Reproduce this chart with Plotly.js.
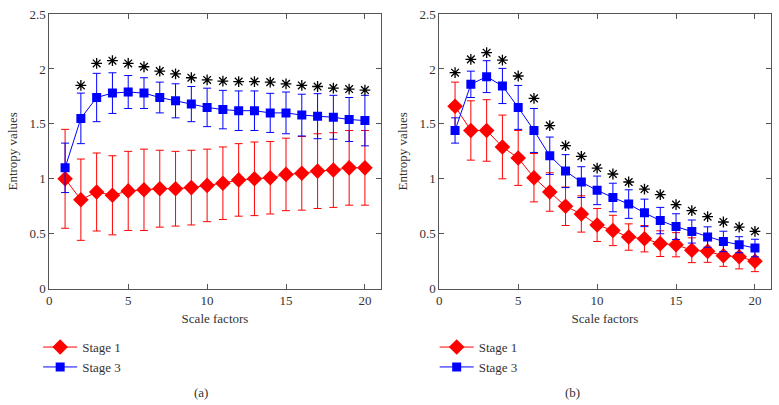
<!DOCTYPE html>
<html><head><meta charset="utf-8">
<script src="https://cdn.plot.ly/plotly-3.0.1.min.js"></script>
<style>html,body{margin:0;padding:0;background:#fff}#c{width:779px;height:405px}</style>
</head><body><div id="c"></div>
<script>
const scales = [1,2,3,4,5,6,7,8,9,10,11,12,13,14,15,16,17,18,19,20];
// Panel (a)
const a_stage1 = [1.00,0.81,0.88,0.85,0.89,0.90,0.91,0.91,0.92,0.94,0.96,0.99,1.00,1.01,1.04,1.05,1.07,1.08,1.10,1.10];
const a_stage1_err = [0.45,0.37,0.355,0.36,0.36,0.37,0.35,0.34,0.34,0.33,0.33,0.33,0.335,0.33,0.33,0.335,0.34,0.34,0.34,0.34];
const a_stage3 = [1.10,1.55,1.74,1.78,1.79,1.78,1.74,1.71,1.68,1.65,1.63,1.62,1.62,1.60,1.60,1.58,1.57,1.56,1.54,1.53];
const a_stage3_err = [0.225,0.23,0.22,0.185,0.15,0.14,0.14,0.155,0.16,0.175,0.175,0.18,0.18,0.178,0.19,0.19,0.205,0.2,0.2,0.23];
const a_star_x = [2,3,4,5,6,7,8,9,10,11,12,13,14,15,16,17,18,19,20];
const a_star_y = [1.85,2.05,2.075,2.05,2.02,1.98,1.955,1.92,1.90,1.89,1.885,1.885,1.88,1.865,1.85,1.84,1.826,1.817,1.808];
// Panel (b)
const b_stage1 = [1.66,1.44,1.44,1.29,1.19,1.01,0.88,0.75,0.68,0.58,0.53,0.47,0.455,0.41,0.40,0.35,0.34,0.30,0.29,0.25];
const b_stage1_err = [0.22,0.27,0.28,0.29,0.25,0.22,0.175,0.175,0.165,0.15,0.138,0.12,0.12,0.117,0.11,0.113,0.1,0.097,0.11,0.095];
const b_stage3 = [1.44,1.86,1.93,1.845,1.65,1.44,1.21,1.07,0.97,0.895,0.83,0.77,0.69,0.62,0.565,0.52,0.47,0.43,0.40,0.37];
const b_stage3_err = [0.115,0.12,0.145,0.16,0.2,0.2,0.17,0.15,0.14,0.13,0.13,0.13,0.125,0.12,0.117,0.105,0.093,0.093,0.073,0.08];
const b_star_x = [1,2,3,4,5,6,7,8,9,10,11,12,13,14,15,16,17,18,19,20];
const b_star_y = [1.966,2.087,2.148,2.081,1.936,1.732,1.484,1.302,1.205,1.098,1.044,0.971,0.907,0.856,0.765,0.71,0.655,0.607,0.561,0.522];
const seriesNames = ["Stage 1","Stage 3"];
const panelLabels = ["(a)","(b)"];

const RED = "#ff0000", BLUE = "#0000ff";
const FONT = "Liberation Serif, Times New Roman, serif";

function mk(x, y, err, name, color, symbol, size, xa, ya, leg, show) {
  return {
    x: x, y: y, type: "scatter", mode: "lines+markers", name: name,
    xaxis: xa, yaxis: ya, legend: leg, showlegend: show,
    line: {color: color, width: 1},
    marker: {color: color, symbol: symbol, size: size},
    error_y: {type: "data", array: err, visible: true, color: color, thickness: 1, width: 4}
  };
}
function stars(x, y, xa, ya) {
  return {x: x, y: y, type: "scatter", mode: "markers", xaxis: xa, yaxis: ya, showlegend: false,
    marker: {symbol: "asterisk-open", size: 9, color: "#000", line: {color: "#000", width: 1.3}}, hoverinfo: "skip"};
}

const traces = [
  mk(scales, a_stage1, a_stage1_err, seriesNames[0], RED, "diamond", 12, "x", "y", "legend", true),
  mk(scales, a_stage3, a_stage3_err, seriesNames[1], BLUE, "square", 9, "x", "y", "legend", true),
  stars(a_star_x, a_star_y, "x", "y"),
  mk(scales, b_stage1, b_stage1_err, seriesNames[0], RED, "diamond", 12, "x2", "y2", "legend2", true),
  mk(scales, b_stage3, b_stage3_err, seriesNames[1], BLUE, "square", 9, "x2", "y2", "legend2", true),
  stars(b_star_x, b_star_y, "x2", "y2")
];

function xax(dom, anchor) {
  return {domain: dom, anchor: anchor, range: [0, 21], tickvals: [0,5,10,15,20], ticks: "inside", ticklen: 5,
    tickcolor: "#555", showline: true, linecolor: "#555", linewidth: 1, mirror: "ticks", showgrid: false, zeroline: false,
    tickfont: {family: FONT, size: 13, color: "#333"},
    title: {text: "Scale factors", font: {family: FONT, size: 13, color: "#333"}, standoff: 6}};
}
function yax(anchor) {
  return {domain: [0.2872, 0.9654], anchor: anchor, range: [0, 2.5], tickvals: [0,0.5,1,1.5,2,2.5],
    ticktext: ["0","0.5","1","1.5","2","2.5"], ticks: "inside", ticklen: 5,
    tickcolor: "#555", showline: true, linecolor: "#555", linewidth: 1, mirror: "ticks", showgrid: false, zeroline: false,
    tickfont: {family: FONT, size: 13, color: "#333"},
    title: {text: "Entropy values", font: {family: FONT, size: 13, color: "#333"}, standoff: 8}};
}
function leg(x) {
  return {x: x, y: 0.18, xref: "paper", yref: "paper", xanchor: "left", yanchor: "top",
    font: {family: FONT, size: 13, color: "#333"}, bgcolor: "rgba(0,0,0,0)", tracegroupgap: 0, itemwidth: 34};
}

const layout = {
  width: 779, height: 405, margin: {l: 0, r: 0, t: 0, b: 0},
  paper_bgcolor: "#fff", plot_bgcolor: "#fff",
  xaxis: xax([0.0633, 0.4887], "y"), yaxis: yax("x"),
  xaxis2: xax([0.5639, 0.9894], "y2"), yaxis2: yax("x2"),
  legend: leg(0.049), legend2: leg(0.558),
  annotations: [
    {text: panelLabels[0], x: 0.2465, y: 0.032, xref: "paper", yref: "paper", yanchor: "middle", showarrow: false, font: {family: FONT, size: 13, color: "#333"}},
    {text: panelLabels[1], x: 0.7475, y: 0.032, xref: "paper", yref: "paper", yanchor: "middle", showarrow: false, font: {family: FONT, size: 13, color: "#333"}}
  ]
};
Plotly.newPlot("c", traces, layout, {displayModeBar: false, staticPlot: true});
</script></body></html>
